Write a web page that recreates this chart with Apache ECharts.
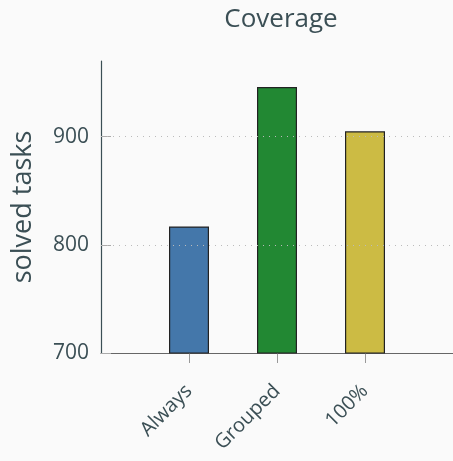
<!DOCTYPE html>
<html><head><meta charset="utf-8">
<script src="https://cdn.jsdelivr.net/npm/echarts@6/dist/echarts.min.js"></script>
<style>html,body{margin:0;padding:0;background:#fafafa}#c{width:453px;height:461px}</style>
</head><body><div id="c"></div>
<script>
const categories = ['Always', 'Grouped', '100%'];
const positions = [1, 2, 3];
const solvedTasks = [817, 946, 905];
const colors = ['#4477aa', '#228833', '#ccbb44'];
const yTicks = [700, 800, 900];

const txt = '#3b4f55';
const font = 'Open Sans';
const chart = echarts.init(document.getElementById('c'));
chart.setOption({
  backgroundColor: '#fafafa',
  title: { text: 'Coverage', left: 276, top: 2, textAlign: 'center',
    textStyle: { fontFamily: font, fontSize: 26, fontWeight: 'normal', color: txt } },
  grid: { left: 101, right: -4, top: 61, bottom: 108 },
  xAxis: {
    type: 'value', min: 0, max: 4, interval: 1,
    axisLine: { show: true, lineStyle: { color: '#666', width: 1.2 } },
    axisTick: { show: true, length: 10, customValues: positions, lineStyle: { color: '#999' } },
    axisLabel: { customValues: positions, rotate: 45, margin: 35, fontFamily: font, fontSize: 20, color: txt,
      formatter: v => categories[positions.indexOf(v)] || '' },
    splitLine: { show: false }
  },
  yAxis: {
    type: 'value', min: 700, max: 970, interval: 100,
    name: 'solved tasks', nameLocation: 'middle', nameGap: 64,
    nameTextStyle: { fontFamily: font, fontSize: 27, color: txt },
    axisLine: { show: true, lineStyle: { color: '#3b4f55', width: 1.2 } },
    axisTick: { show: true, inside: true, length: 10, customValues: yTicks, lineStyle: { color: '#aaa' } },
    axisLabel: { customValues: yTicks, margin: 12, fontFamily: font, fontSize: 21, color: txt },
    splitLine: { show: false }
  },
  series: [{
    type: 'bar', barWidth: 40,
    data: solvedTasks.map((v, i) => ({ value: [positions[i], v], itemStyle: { color: colors[i] } })),
    itemStyle: { borderColor: '#222', borderWidth: 1.2 },
    markLine: {
      silent: true, symbol: 'none', label: { show: false },
      lineStyle: { type: [1, 5], color: '#bbb', width: 1 },
      data: [{ yAxis: 800 }, { yAxis: 900 }]
    }
  }]
});
</script></body></html>
